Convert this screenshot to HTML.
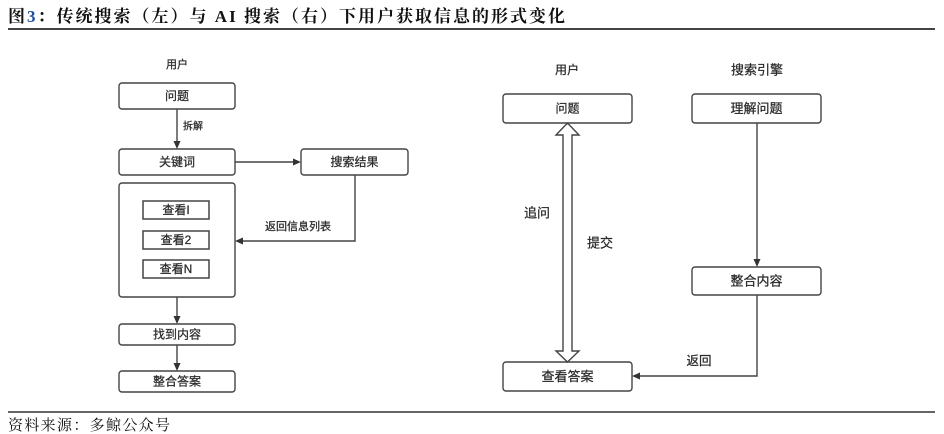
<!DOCTYPE html>
<html>
<head>
<meta charset="utf-8">
<style>
  html, body { margin:0; padding:0; background:#fff; }
  body { width:944px; height:434px; overflow:hidden; }
  svg { display:block; }
  .t { font-family:"Liberation Sans","Noto Sans CJK SC",sans-serif; fill:#2a2a2a; stroke:#2a2a2a; stroke-width:0.25; text-anchor:middle; dominant-baseline:central; }
</style>
</head>
<body>
<svg width="944" height="434" viewBox="0 0 944 434" xmlns="http://www.w3.org/2000/svg">
  <!-- Title -->
  <text x="8" y="22" textLength="557" lengthAdjust="spacing" style="font-family:'Liberation Serif','Noto Serif CJK SC',serif;font-size:17px;font-weight:bold;fill:#111;">图<tspan fill="#1f4e9a">3</tspan>：传统搜索（左）与 AI 搜索（右）下用户获取信息的形式变化</text>
  <line x1="8" y1="29" x2="935" y2="29" stroke="#444" stroke-width="2"/>

  <g stroke="#444" stroke-width="1.4" fill="none">
    <!-- Left -->
    <rect x="119" y="83" width="116" height="26" rx="3"/>
    <line x1="177" y1="109" x2="177" y2="142"/>
    <rect x="119" y="149" width="116" height="26" rx="3"/>
    <line x1="235" y1="162" x2="294" y2="162"/>
    <rect x="301" y="149" width="107" height="26" rx="3"/>
    <polyline points="355,175 355,241 242,241"/>
    <rect x="119" y="183" width="116" height="114" rx="3"/>
    <rect x="143" y="201" width="66" height="18" stroke-width="1.5"/>
    <rect x="143" y="231" width="66" height="18" stroke-width="1.5"/>
    <rect x="143" y="260" width="66" height="18" stroke-width="1.5"/>
    <line x1="177" y1="297" x2="177" y2="317"/>
    <rect x="119" y="324" width="116" height="21" rx="3"/>
    <line x1="177" y1="345" x2="177" y2="364"/>
    <rect x="119" y="371" width="116" height="21" rx="3"/>

    <!-- Right -->
    <rect x="503" y="94" width="129" height="29" rx="3"/>
    <rect x="692" y="94" width="129" height="29" rx="3"/>
    <line x1="757" y1="123" x2="757" y2="260"/>
    <rect x="692" y="267" width="129" height="28" rx="3"/>
    <polyline points="757,295 757,376 639,376"/>
    <rect x="503" y="362" width="129" height="29" rx="3"/>
    <polygon fill="#fff" points="567.5,123 579,135 572,135 572,351 579,351 567.5,362 556,351 563,351 563,135 556,135"/>
  </g>

  <!-- Arrowheads -->
  <g fill="#333">
    <polygon points="177,149 173.5,141 180.5,141"/>
    <polygon points="301,162 293,158.5 293,165.5"/>
    <polygon points="235,241 243,237.5 243,244.5"/>
    <polygon points="177,324 173.5,316 180.5,316"/>
    <polygon points="177,371 173.5,363 180.5,363"/>
    <polygon points="757,267 753.5,259 760.5,259"/>
    <polygon points="632,376 640,372.5 640,379.5"/>
  </g>

  <!-- Left labels -->
  <text class="t" x="177" y="65" style="font-size:11px">用户</text>
  <text class="t" x="177" y="96" style="font-size:12px">问题</text>
  <text class="t" x="193" y="127" style="font-size:10px">拆解</text>
  <text class="t" x="177" y="162" style="font-size:12px">关键词</text>
  <text class="t" x="354.5" y="162" style="font-size:12px">搜索结果</text>
  <text class="t" x="298" y="227" style="font-size:11px">返回信息列表</text>
  <text class="t" x="176" y="210" style="font-size:12px">查看I</text>
  <text class="t" x="176" y="240" style="font-size:12px">查看2</text>
  <text class="t" x="176" y="269" style="font-size:12px">查看N</text>
  <text class="t" x="177" y="334.5" style="font-size:12px">找到内容</text>
  <text class="t" x="177" y="381.5" style="font-size:12px">整合答案</text>

  <!-- Right labels -->
  <text class="t" x="567" y="70" style="font-size:12px">用户</text>
  <text class="t" x="757" y="70" style="font-size:13px">搜索引擎</text>
  <text class="t" x="567.5" y="108.5" style="font-size:12px">问题</text>
  <text class="t" x="756.5" y="108.5" style="font-size:13px">理解问题</text>
  <text class="t" x="537" y="213" style="font-size:13px">追问</text>
  <text class="t" x="600" y="243" style="font-size:13px">提交</text>
  <text class="t" x="756.5" y="281" style="font-size:13px">整合内容</text>
  <text class="t" x="699" y="361" style="font-size:12.5px">返回</text>
  <text class="t" x="567.5" y="376.5" style="font-size:13px">查看答案</text>

  <!-- Footer -->
  <line x1="8" y1="412" x2="935" y2="412" stroke="#333" stroke-width="1.5"/>
  <text x="8" y="430" textLength="162" lengthAdjust="spacing" style="font-family:'Liberation Serif','Noto Serif CJK SC',serif;font-size:15px;fill:#111;">资料来源：多鲸公众号</text>
</svg>
</body>
</html>
